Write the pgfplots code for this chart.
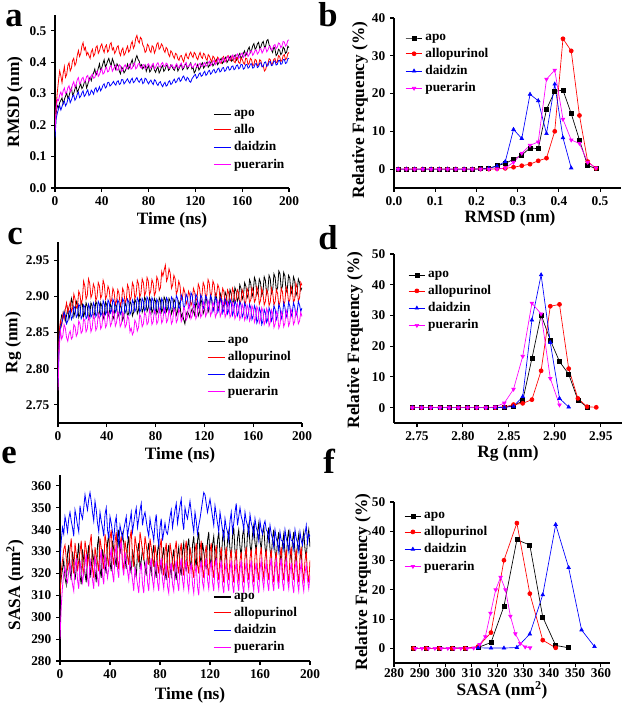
\documentclass[border=0pt]{standalone}
\usepackage{fontspec}
\setmainfont{Liberation Serif}
\usepackage{pgfplots}
\usepackage{pgfplotstable}
\pgfplotsset{compat=1.18}

\definecolor{cmag}{RGB}{255,0,255}
\definecolor{cred}{RGB}{255,0,0}
\definecolor{cblue}{RGB}{0,0,255}

% RMSD vs time (nm)
\pgfplotstableread{
t apo allo daid puer
0 0.170 0.200 0.160 0.180
1 0.238 0.262 0.221 0.251
2 0.262 0.305 0.238 0.282
3 0.255 0.341 0.251 0.278
4 0.271 0.372 0.262 0.296
5 0.279 0.356 0.248 0.305
6 0.286 0.335 0.259 0.292
7 0.268 0.364 0.271 0.309
8 0.281 0.386 0.276 0.318
9 0.292 0.352 0.261 0.301
10 0.302 0.361 0.268 0.304
11 0.285 0.389 0.282 0.319
12 0.293 0.398 0.289 0.325
13 0.307 0.372 0.271 0.306
14 0.318 0.381 0.280 0.312
15 0.296 0.405 0.291 0.329
16 0.301 0.412 0.296 0.338
17 0.314 0.389 0.279 0.321
18 0.326 0.398 0.285 0.329
19 0.305 0.421 0.298 0.344
20 0.312 0.437 0.305 0.351
21 0.322 0.418 0.287 0.331
22 0.331 0.428 0.292 0.336
23 0.316 0.451 0.302 0.348
24 0.322 0.462 0.309 0.352
25 0.335 0.439 0.291 0.337
26 0.341 0.447 0.296 0.341
27 0.318 0.423 0.305 0.354
28 0.329 0.431 0.312 0.358
29 0.343 0.421 0.294 0.339
30 0.352 0.412 0.298 0.346
31 0.341 0.433 0.311 0.357
32 0.358 0.441 0.306 0.362
33 0.366 0.419 0.298 0.349
34 0.378 0.426 0.314 0.351
35 0.359 0.447 0.319 0.366
36 0.366 0.452 0.305 0.372
37 0.381 0.428 0.312 0.355
38 0.395 0.436 0.322 0.361
39 0.372 0.451 0.309 0.374
40 0.383 0.458 0.316 0.379
41 0.396 0.441 0.327 0.362
42 0.408 0.431 0.331 0.366
43 0.385 0.449 0.318 0.378
44 0.392 0.455 0.322 0.384
45 0.404 0.432 0.335 0.369
46 0.412 0.438 0.336 0.372
47 0.398 0.457 0.324 0.386
48 0.389 0.462 0.328 0.389
49 0.411 0.439 0.333 0.371
50 0.401 0.446 0.339 0.378
51 0.386 0.428 0.331 0.386
52 0.376 0.435 0.327 0.391
53 0.395 0.448 0.338 0.374
54 0.388 0.452 0.341 0.377
55 0.371 0.431 0.329 0.392
56 0.363 0.421 0.332 0.388
57 0.384 0.438 0.345 0.371
58 0.379 0.445 0.344 0.374
59 0.366 0.422 0.331 0.386
60 0.372 0.428 0.336 0.392
61 0.381 0.441 0.342 0.381
62 0.394 0.451 0.347 0.379
63 0.379 0.432 0.338 0.389
64 0.386 0.438 0.333 0.394
65 0.398 0.457 0.344 0.378
66 0.408 0.466 0.349 0.381
67 0.389 0.444 0.335 0.392
68 0.396 0.452 0.338 0.397
69 0.412 0.476 0.346 0.379
70 0.421 0.485 0.351 0.383
71 0.409 0.468 0.341 0.394
72 0.403 0.461 0.336 0.396
73 0.386 0.479 0.344 0.384
74 0.392 0.474 0.348 0.381
75 0.379 0.455 0.332 0.391
76 0.385 0.448 0.335 0.393
77 0.391 0.431 0.349 0.379
78 0.371 0.436 0.346 0.382
79 0.382 0.457 0.337 0.392
80 0.388 0.452 0.331 0.395
81 0.369 0.437 0.339 0.386
82 0.374 0.431 0.343 0.381
83 0.386 0.452 0.334 0.392
84 0.391 0.448 0.329 0.396
85 0.375 0.429 0.344 0.379
86 0.368 0.439 0.341 0.383
87 0.379 0.457 0.331 0.394
88 0.385 0.462 0.326 0.398
89 0.366 0.441 0.335 0.387
90 0.373 0.446 0.338 0.384
91 0.384 0.458 0.328 0.395
92 0.389 0.452 0.322 0.399
93 0.371 0.438 0.331 0.388
94 0.376 0.431 0.336 0.386
95 0.388 0.447 0.324 0.397
96 0.392 0.442 0.327 0.394
97 0.374 0.425 0.337 0.383
98 0.378 0.418 0.341 0.381
99 0.391 0.436 0.329 0.389
100 0.386 0.431 0.332 0.392
101 0.379 0.419 0.341 0.384
102 0.374 0.412 0.346 0.379
103 0.386 0.428 0.335 0.389
104 0.391 0.425 0.338 0.395
105 0.372 0.411 0.347 0.385
106 0.379 0.406 0.351 0.382
107 0.388 0.419 0.339 0.392
108 0.394 0.421 0.343 0.397
109 0.376 0.409 0.352 0.381
110 0.381 0.401 0.356 0.384
111 0.391 0.418 0.346 0.393
112 0.396 0.428 0.341 0.399
113 0.378 0.415 0.352 0.385
114 0.383 0.411 0.348 0.386
115 0.392 0.426 0.339 0.391
116 0.398 0.432 0.336 0.395
117 0.379 0.421 0.347 0.384
118 0.384 0.415 0.352 0.383
119 0.366 0.431 0.358 0.391
120 0.372 0.426 0.361 0.396
121 0.386 0.414 0.349 0.387
122 0.393 0.408 0.353 0.384
123 0.375 0.422 0.362 0.392
124 0.381 0.431 0.366 0.397
125 0.392 0.417 0.355 0.386
126 0.398 0.412 0.358 0.388
127 0.381 0.428 0.366 0.395
128 0.387 0.424 0.371 0.399
129 0.396 0.411 0.358 0.387
130 0.401 0.406 0.362 0.391
131 0.384 0.424 0.371 0.398
132 0.389 0.419 0.374 0.403
133 0.399 0.408 0.362 0.389
134 0.405 0.402 0.366 0.394
135 0.388 0.419 0.374 0.401
136 0.394 0.415 0.377 0.406
137 0.403 0.403 0.366 0.392
138 0.409 0.398 0.369 0.397
139 0.392 0.416 0.378 0.406
140 0.398 0.411 0.381 0.411
141 0.406 0.399 0.369 0.398
142 0.412 0.396 0.372 0.402
143 0.396 0.412 0.381 0.409
144 0.401 0.418 0.383 0.414
145 0.411 0.407 0.371 0.401
146 0.416 0.402 0.374 0.406
147 0.399 0.417 0.384 0.415
148 0.405 0.421 0.386 0.419
149 0.414 0.409 0.375 0.406
150 0.419 0.405 0.377 0.411
151 0.403 0.419 0.386 0.419
152 0.408 0.416 0.388 0.423
153 0.418 0.402 0.376 0.409
154 0.423 0.398 0.379 0.414
155 0.406 0.415 0.389 0.422
156 0.412 0.412 0.391 0.426
157 0.422 0.399 0.379 0.412
158 0.428 0.396 0.382 0.418
159 0.411 0.414 0.393 0.425
160 0.418 0.409 0.392 0.429
161 0.428 0.398 0.378 0.415
162 0.436 0.394 0.381 0.421
163 0.421 0.413 0.392 0.429
164 0.429 0.411 0.393 0.432
165 0.441 0.392 0.381 0.418
166 0.448 0.397 0.384 0.424
167 0.431 0.412 0.394 0.433
168 0.438 0.408 0.395 0.436
169 0.452 0.389 0.381 0.422
170 0.459 0.392 0.383 0.428
171 0.441 0.409 0.394 0.437
172 0.446 0.406 0.396 0.439
173 0.458 0.389 0.383 0.426
174 0.463 0.391 0.386 0.431
175 0.444 0.408 0.397 0.441
176 0.449 0.404 0.398 0.443
177 0.461 0.386 0.385 0.429
178 0.466 0.388 0.387 0.436
179 0.447 0.372 0.399 0.446
180 0.451 0.376 0.401 0.447
181 0.468 0.391 0.387 0.433
182 0.472 0.395 0.389 0.439
183 0.455 0.411 0.401 0.449
184 0.446 0.408 0.402 0.451
185 0.438 0.392 0.389 0.438
186 0.431 0.396 0.391 0.443
187 0.449 0.409 0.403 0.453
188 0.442 0.412 0.404 0.456
189 0.421 0.398 0.391 0.443
190 0.426 0.401 0.393 0.448
191 0.441 0.421 0.405 0.461
192 0.438 0.418 0.406 0.459
193 0.424 0.402 0.393 0.446
194 0.429 0.406 0.395 0.452
195 0.448 0.421 0.408 0.466
196 0.443 0.424 0.409 0.464
197 0.428 0.408 0.396 0.451
198 0.432 0.412 0.398 0.456
199 0.451 0.427 0.411 0.469
200 0.446 0.431 0.412 0.471
}\rmsd

% Rg vs time (nm)
\pgfplotstableread{
t apo allo daid puer
0 2.790 2.800 2.780 2.770
1 2.848 2.851 2.839 2.829
2 2.862 2.866 2.856 2.852
3 2.874 2.859 2.862 2.841
4 2.871 2.876 2.869 2.846
5 2.879 2.869 2.878 2.861
6 2.866 2.882 2.874 2.856
7 2.873 2.891 2.862 2.843
8 2.884 2.878 2.866 2.838
9 2.869 2.885 2.877 2.848
10 2.876 2.892 2.881 2.852
11 2.897 2.879 2.868 2.841
12 2.891 2.884 2.872 2.844
13 2.872 2.903 2.886 2.861
14 2.879 2.896 2.884 2.858
15 2.893 2.884 2.871 2.845
16 2.888 2.887 2.874 2.849
17 2.871 2.907 2.889 2.866
18 2.875 2.902 2.886 2.862
19 2.893 2.889 2.869 2.849
20 2.889 2.896 2.873 2.852
21 2.872 2.921 2.888 2.869
22 2.878 2.914 2.885 2.866
23 2.891 2.896 2.869 2.851
24 2.886 2.901 2.872 2.855
25 2.869 2.924 2.889 2.872
26 2.874 2.918 2.884 2.868
27 2.891 2.898 2.871 2.851
28 2.887 2.903 2.875 2.856
29 2.871 2.917 2.891 2.874
30 2.876 2.912 2.887 2.869
31 2.893 2.894 2.872 2.853
32 2.889 2.899 2.876 2.857
33 2.872 2.919 2.893 2.876
34 2.878 2.914 2.889 2.871
35 2.891 2.897 2.873 2.855
36 2.886 2.902 2.877 2.859
37 2.869 2.922 2.894 2.877
38 2.875 2.916 2.889 2.872
39 2.892 2.896 2.875 2.857
40 2.888 2.901 2.879 2.861
41 2.872 2.914 2.895 2.879
42 2.877 2.909 2.891 2.874
43 2.889 2.891 2.877 2.859
44 2.885 2.895 2.881 2.863
45 2.868 2.911 2.896 2.881
46 2.873 2.906 2.892 2.876
47 2.891 2.889 2.878 2.859
48 2.886 2.893 2.882 2.864
49 2.871 2.909 2.895 2.879
50 2.876 2.904 2.891 2.875
51 2.889 2.887 2.875 2.858
52 2.884 2.892 2.879 2.862
53 2.867 2.911 2.897 2.878
54 2.872 2.906 2.893 2.874
55 2.891 2.891 2.877 2.857
56 2.886 2.895 2.881 2.861
57 2.872 2.916 2.896 2.873
58 2.877 2.911 2.892 2.869
59 2.893 2.894 2.875 2.851
60 2.889 2.899 2.879 2.856
61 2.873 2.919 2.895 2.847
62 2.878 2.914 2.891 2.851
63 2.896 2.897 2.879 2.867
64 2.892 2.902 2.883 2.863
65 2.876 2.922 2.898 2.852
66 2.881 2.917 2.894 2.857
67 2.898 2.899 2.878 2.875
68 2.894 2.904 2.882 2.871
69 2.878 2.924 2.897 2.858
70 2.883 2.919 2.893 2.862
71 2.899 2.901 2.879 2.878
72 2.895 2.906 2.884 2.874
73 2.879 2.926 2.899 2.861
74 2.884 2.921 2.895 2.864
75 2.898 2.902 2.879 2.881
76 2.894 2.907 2.883 2.876
77 2.877 2.923 2.898 2.861
78 2.882 2.918 2.894 2.865
79 2.897 2.901 2.877 2.881
80 2.893 2.906 2.881 2.877
81 2.876 2.927 2.896 2.862
82 2.881 2.922 2.892 2.866
83 2.898 2.908 2.878 2.883
84 2.894 2.912 2.882 2.878
85 2.878 2.934 2.897 2.863
86 2.883 2.928 2.893 2.867
87 2.899 2.936 2.877 2.884
88 2.895 2.943 2.881 2.879
89 2.879 2.921 2.898 2.864
90 2.884 2.926 2.894 2.868
91 2.897 2.938 2.879 2.881
92 2.893 2.932 2.883 2.876
93 2.876 2.911 2.899 2.862
94 2.881 2.916 2.896 2.866
95 2.896 2.929 2.881 2.883
96 2.892 2.924 2.885 2.879
97 2.874 2.903 2.901 2.864
98 2.879 2.908 2.897 2.868
99 2.893 2.921 2.882 2.882
100 2.888 2.915 2.886 2.878
101 2.871 2.895 2.902 2.865
102 2.876 2.899 2.898 2.869
103 2.868 2.911 2.883 2.885
104 2.862 2.905 2.887 2.881
105 2.874 2.889 2.903 2.867
106 2.879 2.894 2.899 2.871
107 2.876 2.907 2.884 2.889
108 2.871 2.902 2.888 2.884
109 2.878 2.887 2.905 2.869
110 2.883 2.892 2.901 2.873
111 2.879 2.911 2.885 2.889
112 2.874 2.906 2.889 2.885
113 2.892 2.893 2.903 2.869
114 2.887 2.898 2.899 2.874
115 2.873 2.917 2.884 2.891
116 2.878 2.912 2.888 2.886
117 2.896 2.896 2.902 2.871
118 2.891 2.901 2.898 2.875
119 2.876 2.919 2.883 2.893
120 2.881 2.914 2.887 2.888
121 2.899 2.897 2.901 2.872
122 2.894 2.902 2.897 2.877
123 2.878 2.923 2.882 2.894
124 2.883 2.918 2.886 2.889
125 2.901 2.899 2.901 2.873
126 2.896 2.904 2.896 2.878
127 2.881 2.921 2.879 2.892
128 2.885 2.916 2.884 2.887
129 2.903 2.898 2.899 2.871
130 2.898 2.903 2.895 2.876
131 2.882 2.916 2.878 2.894
132 2.887 2.911 2.883 2.889
133 2.904 2.893 2.898 2.872
134 2.899 2.898 2.894 2.877
135 2.884 2.911 2.877 2.893
136 2.889 2.906 2.882 2.888
137 2.906 2.889 2.897 2.871
138 2.901 2.894 2.892 2.876
139 2.887 2.909 2.876 2.892
140 2.892 2.904 2.881 2.887
141 2.909 2.891 2.896 2.871
142 2.904 2.895 2.891 2.875
143 2.889 2.911 2.874 2.891
144 2.894 2.906 2.879 2.886
145 2.912 2.891 2.894 2.869
146 2.907 2.896 2.889 2.874
147 2.893 2.909 2.873 2.890
148 2.898 2.905 2.878 2.885
149 2.916 2.889 2.893 2.868
150 2.911 2.894 2.888 2.873
151 2.896 2.909 2.871 2.889
152 2.901 2.904 2.876 2.884
153 2.919 2.888 2.891 2.867
154 2.914 2.893 2.886 2.872
155 2.898 2.911 2.869 2.888
156 2.903 2.906 2.875 2.883
157 2.923 2.891 2.889 2.866
158 2.918 2.895 2.884 2.871
159 2.899 2.912 2.868 2.887
160 2.905 2.907 2.873 2.882
161 2.926 2.892 2.887 2.864
162 2.921 2.896 2.882 2.869
163 2.902 2.913 2.863 2.886
164 2.907 2.908 2.868 2.881
165 2.924 2.889 2.884 2.863
166 2.919 2.894 2.879 2.868
167 2.901 2.911 2.861 2.884
168 2.906 2.905 2.866 2.879
169 2.927 2.888 2.882 2.861
170 2.922 2.893 2.877 2.866
171 2.903 2.909 2.864 2.883
172 2.908 2.904 2.869 2.878
173 2.929 2.887 2.884 2.859
174 2.924 2.892 2.879 2.864
175 2.904 2.911 2.866 2.881
176 2.909 2.905 2.871 2.876
177 2.931 2.888 2.887 2.857
178 2.926 2.893 2.882 2.862
179 2.907 2.909 2.868 2.879
180 2.912 2.904 2.873 2.875
181 2.935 2.887 2.889 2.856
182 2.931 2.892 2.884 2.861
183 2.909 2.911 2.869 2.879
184 2.914 2.906 2.874 2.874
185 2.933 2.888 2.891 2.858
186 2.928 2.893 2.885 2.863
187 2.906 2.913 2.871 2.881
188 2.911 2.908 2.876 2.876
189 2.929 2.891 2.892 2.859
190 2.925 2.895 2.887 2.864
191 2.903 2.914 2.872 2.882
192 2.908 2.909 2.877 2.877
193 2.927 2.891 2.891 2.861
194 2.922 2.896 2.886 2.865
195 2.901 2.918 2.873 2.881
196 2.906 2.912 2.878 2.876
197 2.924 2.893 2.893 2.862
198 2.919 2.898 2.888 2.866
199 2.908 2.919 2.879 2.878
200 2.912 2.915 2.884 2.872
}\rg

% SASA vs time (nm^2)
\pgfplotstableread{
t apo allo daid puer
0 312 310 325 290
1 318 321 335 305
2 322 326 341 314
3 326 331 338 320
4 318 333 346 323
5 315 327 343 318
6 329 322 339 316
7 333 325 345 321
8 321 331 348 325
9 317 336 344 319
10 330 324 341 315
11 325 320 337 312
12 317 334 349 323
13 322 329 346 327
14 328 321 342 317
15 334 326 339 313
16 319 330 351 326
17 315 335 347 321
18 331 323 345 316
19 326 319 350 320
20 320 335 356 324
21 316 331 352 329
22 328 324 349 318
23 333 328 354 314
24 318 334 357 327
25 323 338 353 322
26 330 322 348 317
27 326 318 344 313
28 321 332 353 328
29 316 328 349 323
30 333 325 343 318
31 337 321 339 314
32 322 336 348 326
33 318 332 344 331
34 331 326 341 319
35 327 322 337 315
36 324 338 347 329
37 320 334 350 324
38 334 327 340 318
39 338 323 336 322
40 325 336 346 327
41 321 340 343 332
42 335 328 339 320
43 331 324 335 316
44 327 334 343 329
45 323 339 346 333
46 336 326 337 322
47 340 322 333 318
48 329 333 342 331
49 333 337 339 335
50 338 325 336 323
51 334 321 340 319
52 327 335 343 330
53 322 331 346 326
54 333 328 337 321
55 337 324 341 317
56 324 336 344 326
57 320 340 348 322
58 331 327 339 317
59 327 323 343 312
60 323 337 347 323
61 318 333 350 319
62 330 329 341 315
63 334 325 345 311
64 322 339 349 321
65 326 335 352 325
66 331 330 342 315
67 327 326 346 311
68 323 337 348 322
69 319 333 344 326
70 330 328 340 316
71 334 324 337 312
72 324 336 345 323
73 320 332 341 327
74 329 327 339 317
75 333 323 335 313
76 322 333 343 322
77 318 329 347 326
78 330 324 337 316
79 334 320 333 312
80 325 332 341 323
81 321 336 345 327
82 328 323 335 317
83 332 319 339 313
84 321 330 343 321
85 317 334 339 325
86 329 322 338 314
87 333 318 342 311
88 323 334 346 321
89 319 330 349 325
90 327 325 341 315
91 331 321 345 312
92 321 331 349 322
93 317 335 352 326
94 328 324 343 316
95 332 320 347 312
96 323 330 351 323
97 319 334 354 327
98 330 323 344 317
99 334 319 340 313
100 325 331 350 322
101 321 335 347 326
102 332 324 345 316
103 336 320 349 312
104 326 332 353 321
105 322 328 348 325
106 333 322 343 315
107 337 318 339 311
108 327 330 348 320
109 323 334 344 324
110 335 324 338 314
111 339 320 342 310
112 328 331 345 322
113 324 335 349 326
114 334 322 353 316
115 330 318 357 313
116 326 329 356 323
117 322 333 352 327
118 335 323 348 317
119 339 319 351 313
120 327 330 354 322
121 323 334 350 326
122 333 322 346 316
123 337 318 342 312
124 328 329 351 323
125 324 333 347 327
126 335 321 343 317
127 339 317 339 313
128 329 328 348 322
129 325 332 344 326
130 336 320 340 315
131 340 316 336 311
132 330 328 345 321
133 326 332 341 325
134 335 321 339 316
135 339 317 335 312
136 331 327 344 322
137 327 331 348 326
138 337 320 339 315
139 341 316 343 311
140 330 327 348 321
141 326 331 352 325
142 336 321 342 316
143 340 317 346 312
144 332 326 350 322
145 328 330 346 326
146 337 320 344 315
147 341 316 340 311
148 331 328 348 321
149 327 332 344 325
150 338 321 342 317
151 342 317 338 313
152 333 327 347 322
153 329 331 343 326
154 338 320 341 316
155 342 316 337 312
156 334 328 345 321
157 330 332 341 325
158 339 321 339 315
159 343 317 335 311
160 335 328 344 322
161 331 332 340 326
162 338 322 338 317
163 342 318 342 313
164 332 327 344 321
165 328 331 340 325
166 337 321 339 316
167 341 317 335 312
168 331 327 342 323
169 327 331 338 327
170 336 320 336 316
171 340 316 332 312
172 330 326 340 322
173 326 330 336 326
174 335 320 334 317
175 339 316 330 313
176 329 328 339 323
177 325 332 335 327
178 334 321 335 316
179 338 317 331 312
180 329 327 340 322
181 325 331 336 326
182 336 320 334 317
183 340 316 330 313
184 330 328 339 321
185 326 332 335 325
186 335 321 335 315
187 339 317 331 311
188 329 327 340 322
189 325 331 336 326
190 334 320 334 316
191 338 316 330 312
192 330 328 339 321
193 326 332 335 325
194 335 321 333 316
195 339 317 337 312
196 331 326 338 320
197 327 330 342 324
198 336 320 334 317
199 340 316 338 313
200 332 326 337 319
}\sasa

\newcommand{\tickfont}{\fontsize{10}{12}\selectfont\bfseries}
\newcommand{\labfont}{\fontsize{13}{15}\selectfont\bfseries}
\newcommand{\letfont}{\fontsize{26}{28}\selectfont\bfseries}

\pgfplotsset{
  base/.style={
    scale only axis, axis lines*=left,
    axis line style={line width=0.8pt},
    tick align=outside, major tick length=3pt,
    tick style={line width=0.8pt, black},
    ticklabel style={font=\tickfont},
    /pgf/number format/assume math mode=true,
    legend cell align=left,
    legend style={draw=none, fill=none, font=\tickfont, inner sep=0pt,
      row sep=0.5pt, anchor=north west},
  },
  ts/.style={base, xmin=0, xmax=200, xtick={0,40,80,120,160,200},
    every axis plot/.append style={line width=0.6pt, mark=none},
    legend image code/.code={\draw[##1, line width=0.8pt] (0cm,0cm) -- (0.45cm,0cm);},
  },
  hist/.style={base,
    every axis plot/.append style={line width=0.5pt, mark size=1.5pt},
    legend image code/.code={\draw[mark repeat=2, mark phase=2, ##1]
      plot coordinates {(0cm,0cm) (0.22cm,0cm) (0.44cm,0cm)};},
  },
  sapo/.style={black, mark=square*},
  sallo/.style={cred, mark=*},
  sdaid/.style={cblue, mark=triangle*},
  spuer/.style={cmag, mark=triangle*, mark options={rotate=180}},
}

\begin{document}
\begin{tikzpicture}
\useasboundingbox (0pt,0pt) rectangle (468.75pt,-528.75pt);

% ---- a: RMSD time series
\begin{axis}[ts, at={(41.25pt,-141pt)}, anchor=south west,
  width=175.5pt, height=129.75pt, ymin=0, ymax=0.55,
  ytick={0,0.1,0.2,0.3,0.4,0.5},
  yticklabel style={/pgf/number format/.cd, fixed, fixed zerofill, precision=1},
  legend style={at={(0.675,0.468)}}]
\addplot[black] table[x=t, y=apo] {\rmsd};
\addplot[cred] table[x=t, y=allo] {\rmsd};
\addplot[cblue] table[x=t, y=daid] {\rmsd};
\addplot[cmag] table[x=t, y=puer] {\rmsd};
\legend{apo, allo, daidzin, puerarin}
\end{axis}

% ---- b: RMSD distribution
\begin{axis}[hist, at={(295.5pt,-141pt)}, anchor=south west,
  width=170pt, height=127.5pt, xmin=0, xmax=0.55, ymin=-5, ymax=40,
  xtick={0,0.1,0.2,0.3,0.4,0.5}, ytick={0,10,20,30,40},
  xticklabel style={/pgf/number format/.cd, fixed, fixed zerofill, precision=1},
  legend style={at={(0.049,0.924)}}]
\addplot[sapo] coordinates {(0.01,0)(0.03,0)(0.05,0)(0.07,0)(0.09,0)(0.11,0)(0.13,0)(0.15,0)(0.17,0)(0.19,0)(0.21,0.1)(0.23,0.2)(0.25,0.9)(0.27,1.5)(0.29,2.6)(0.31,3.7)(0.33,5.6)(0.35,5.4)(0.37,15.8)(0.39,20.6)(0.41,20.9)(0.43,14.7)(0.45,7.7)(0.47,0.9)(0.49,0.2)};
\addplot[sallo] coordinates {(0.01,0)(0.03,0)(0.05,0)(0.07,0)(0.09,0)(0.11,0)(0.13,0)(0.15,0)(0.17,0)(0.19,0)(0.21,0)(0.23,0)(0.25,0.1)(0.27,0.2)(0.29,0.5)(0.31,0.9)(0.33,1.3)(0.35,2.2)(0.37,2.9)(0.39,10.0)(0.41,34.5)(0.43,31.3)(0.45,14.2)(0.47,2.0)(0.49,0.2)};
\addplot[sdaid] coordinates {(0.01,0)(0.03,0)(0.05,0)(0.07,0)(0.09,0)(0.11,0)(0.13,0)(0.15,0)(0.17,0)(0.19,0)(0.21,0)(0.23,0.2)(0.25,0.8)(0.27,2.0)(0.29,10.5)(0.31,8.1)(0.33,19.8)(0.35,18.1)(0.37,9.4)(0.39,22.5)(0.41,8.3)(0.43,0.3)};
\addplot[spuer] coordinates {(0.01,0)(0.03,0)(0.05,0)(0.07,0)(0.09,0)(0.11,0)(0.13,0)(0.15,0)(0.17,0)(0.19,0)(0.21,0)(0.23,0)(0.25,0)(0.27,0.3)(0.29,1.8)(0.31,4.2)(0.33,6.3)(0.35,7.2)(0.37,23.8)(0.39,26.2)(0.41,13.2)(0.43,7.7)(0.45,6.8)(0.47,1.8)(0.49,0.3)};
\legend{apo, allopurinol, daidzin, puerarin}
\end{axis}

% ---- c: Rg time series
\begin{axis}[ts, at={(43.5pt,-317.25pt)}, anchor=south west,
  width=183pt, height=135.75pt, ymin=2.725, ymax=2.975,
  ytick={2.75,2.80,2.85,2.90,2.95},
  yticklabel style={/pgf/number format/.cd, fixed, fixed zerofill, precision=2},
  legend style={at={(0.61,0.49)}}]
\addplot[black] table[x=t, y=apo] {\rg};
\addplot[cred] table[x=t, y=allo] {\rg};
\addplot[cblue] table[x=t, y=daid] {\rg};
\addplot[cmag] table[x=t, y=puer] {\rg};
\legend{apo, allopurinol, daidzin, puerarin}
\end{axis}

% ---- d: Rg distribution
\begin{axis}[hist, at={(295.5pt,-317.25pt)}, anchor=south west,
  width=171pt, height=126.75pt, xmin=2.725, xmax=2.973, ymin=-5, ymax=50,
  xtick={2.75,2.80,2.85,2.90,2.95}, ytick={0,10,20,30,40,50},
  xticklabel style={/pgf/number format/.cd, fixed, fixed zerofill, precision=2},
  legend style={at={(0.061,0.917)}}]
\addplot[sapo] coordinates {(2.745,0)(2.755,0)(2.765,0)(2.775,0)(2.785,0)(2.795,0)(2.805,0)(2.815,0)(2.825,0)(2.835,0)(2.845,0.2)(2.855,0.5)(2.865,2.3)(2.875,16.0)(2.885,30.2)(2.895,22.0)(2.905,15.0)(2.915,10.9)(2.925,2.5)(2.935,0.2)};
\addplot[sallo] coordinates {(2.745,0)(2.755,0)(2.765,0)(2.775,0)(2.785,0)(2.795,0)(2.805,0)(2.815,0)(2.825,0)(2.835,0)(2.845,0.2)(2.855,1.0)(2.865,1.4)(2.875,2.6)(2.885,12.0)(2.895,33.0)(2.905,33.6)(2.915,12.7)(2.925,3.0)(2.935,0.3)(2.945,0.1)};
\addplot[sdaid] coordinates {(2.745,0)(2.755,0)(2.765,0)(2.775,0)(2.785,0)(2.795,0)(2.805,0)(2.815,0)(2.825,0)(2.835,0)(2.845,0.1)(2.855,0.4)(2.865,3.6)(2.875,28.5)(2.885,43.2)(2.895,21.2)(2.905,3.0)(2.915,0.2)};
\addplot[spuer] coordinates {(2.745,0)(2.755,0)(2.765,0)(2.775,0)(2.785,0)(2.795,0)(2.805,0)(2.815,0)(2.825,0)(2.835,0.2)(2.845,1.5)(2.855,6.0)(2.865,16.7)(2.875,34.0)(2.885,30.5)(2.895,9.5)(2.905,0.9)};
\legend{apo, allopurinol, daidzin, puerarin}
\end{axis}

% ---- e: SASA time series
\begin{axis}[ts, at={(45pt,-495.75pt)}, anchor=south west,
  width=187.5pt, height=139.5pt, ymin=280, ymax=365,
  ytick={280,290,300,310,320,330,340,350,360},
  legend style={at={(0.612,0.382)}}]
\addplot[black] table[x=t, y=apo] {\sasa};
\addplot[cred] table[x=t, y=allo] {\sasa};
\addplot[cblue] table[x=t, y=daid] {\sasa};
\addplot[cmag] table[x=t, y=puer] {\sasa};
\legend{apo, allopurinol, daidzin, puerarin}
\end{axis}

% ---- f: SASA distribution
\begin{axis}[hist, at={(295.5pt,-497.25pt)}, anchor=south west,
  width=162pt, height=120.75pt, xmin=280, xmax=363.5, ymin=-5, ymax=50,
  xtick={280,290,300,310,320,330,340,350,360}, ytick={0,10,20,30,40,50},
  xticklabel style={yshift=2.25pt},
  legend style={at={(0.046,0.956)}}]
\addplot[sapo] coordinates {(287.5,0)(292.5,0)(297.5,0)(302.5,0.1)(307.5,0.1)(312.5,0.3)(317.5,2.0)(322.5,14.4)(327.5,37.1)(332.5,35.3)(337.5,10.7)(342.5,1.0)(347.5,0.2)};
\addplot[sallo] coordinates {(287.5,0)(292.5,0)(297.5,0)(302.5,0)(307.5,0)(312.5,0.6)(317.5,5.4)(322.5,30.1)(327.5,42.8)(332.5,18.7)(337.5,2.8)(342.5,0.2)};
\addplot[sdaid] coordinates {(312.5,0.2)(317.5,0.1)(322.5,0.1)(327.5,0.3)(332.5,4.9)(337.5,18.3)(342.5,42.3)(347.5,27.6)(352.5,6.3)(357.5,0.6)};
\addplot[spuer] coordinates {(288.3,0)(290.8,0)(293.3,0)(295.8,0)(298.3,0)(300.8,0)(303.3,0)(305.8,0)(308.3,0)(310.8,0.1)(313.1,1.3)(315.3,4.0)(317.3,12.0)(319.3,20.0)(321.2,24.3)(323.1,20.0)(325.0,11.0)(326.9,5.0)(328.8,1.7)(330.7,0.5)(332.6,0.2)};
\legend{apo, allopurinol, daidzin, puerarin}
\end{axis}

% axis titles
\node[font=\labfont] at (129pt,-165pt) {Time (ns)};
\node[font=\labfont, rotate=90] at (11.25pt,-76.5pt) {RMSD (nm)};
\node[font=\labfont] at (382.5pt,-163.5pt) {RMSD (nm)};
\node[font=\labfont, rotate=90] at (270pt,-82.5pt) {Relative Frequency (\%)};
\node[font=\labfont] at (135pt,-341.25pt) {Time (ns)};
\node[font=\labfont, rotate=90] at (10pt,-257pt) {Rg (nm)};
\node[font=\labfont] at (381pt,-339.75pt) {Rg (nm)};
\node[font=\labfont, rotate=90] at (266.25pt,-255pt) {Relative Frequency (\%)};
\node[font=\labfont] at (142.5pt,-521.25pt) {Time (ns)};
\node[font=\labfont, rotate=90] at (11.25pt,-438.75pt) {SASA (nm\textsuperscript{2})};
\node[font=\labfont] at (376.5pt,-517.5pt) {SASA (nm\textsuperscript{2})};
\node[font=\labfont, rotate=90] at (272.25pt,-436.5pt) {Relative Frequency (\%)};

% panel letters
\node[font=\letfont, anchor=base west, inner sep=0pt] at (3.75pt,-20.25pt) {a};
\node[font=\letfont, anchor=base west, inner sep=0pt] at (238.5pt,-20.25pt) {b};
\node[font=\letfont, anchor=base west, inner sep=0pt] at (5.25pt,-183.75pt) {c};
\node[font=\letfont, anchor=base west, inner sep=0pt] at (238.5pt,-187.5pt) {d};
\node[font=\letfont, anchor=base west, inner sep=0pt] at (0.75pt,-347.25pt) {e};
\node[font=\letfont, anchor=base west, inner sep=0pt] at (242.25pt,-354.75pt) {f};
\end{tikzpicture}
\end{document}
